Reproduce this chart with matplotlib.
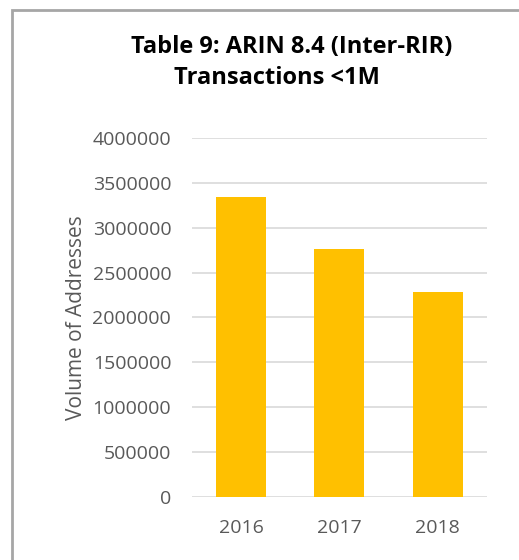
import matplotlib
matplotlib.use("Agg")
import matplotlib.pyplot as plt
from matplotlib.patches import Rectangle

# data
years = ["2016", "2017", "2018"]
volumes = [3340000, 2760000, 2280000]
yticks = [0, 500000, 1000000, 1500000, 2000000, 2500000, 3000000, 3500000, 4000000]

plt.rcParams['font.family'] = ['Open Sans', 'DejaVu Sans']

fig = plt.figure(figsize=(5.19, 5.6), dpi=100)
ax = fig.add_axes([0.370, 0.1125, 0.568, 0.6411])

ax.bar(range(len(years)), volumes, width=0.51, color="#FFC000", zorder=3)
ax.set_xlim(-0.5, len(years) - 0.5)
ax.set_ylim(0, 4000000)
ax.set_yticks(yticks)
ax.set_yticklabels([str(v) for v in yticks])
ax.set_xticks(range(len(years)))
ax.set_xticklabels(years)

ax.grid(axis="y", color="#d9d9d9", linewidth=1.2, zorder=0)
for s in ax.spines.values():
    s.set_visible(False)
ax.tick_params(length=0, colors="#595959", labelsize=14)
ax.tick_params(axis="y", pad=15)
ax.tick_params(axis="x", pad=16)

ax.set_ylabel("Volume of Addresses", color="#595959", fontsize=15, labelpad=4)

# titles
fig.text(0.5626, 0.916, "Table 9: ARIN 8.4 (Inter-RIR)", ha="center", va="center",
         fontsize=17, fontweight="bold", color="#000000")
fig.text(0.534, 0.861, "Transactions <1M", ha="center", va="center",
         fontsize=17, fontweight="bold", color="#000000")

# chart frame running off the right/bottom edges
frame = Rectangle((12 / 519, -0.05), 1.1, 1 - 10 / 560 + 0.05, transform=fig.transFigure,
                  fill=False, edgecolor="#a6a6a6", linewidth=2)
fig.patches.append(frame)

fig.savefig("out.png", dpi=100)
